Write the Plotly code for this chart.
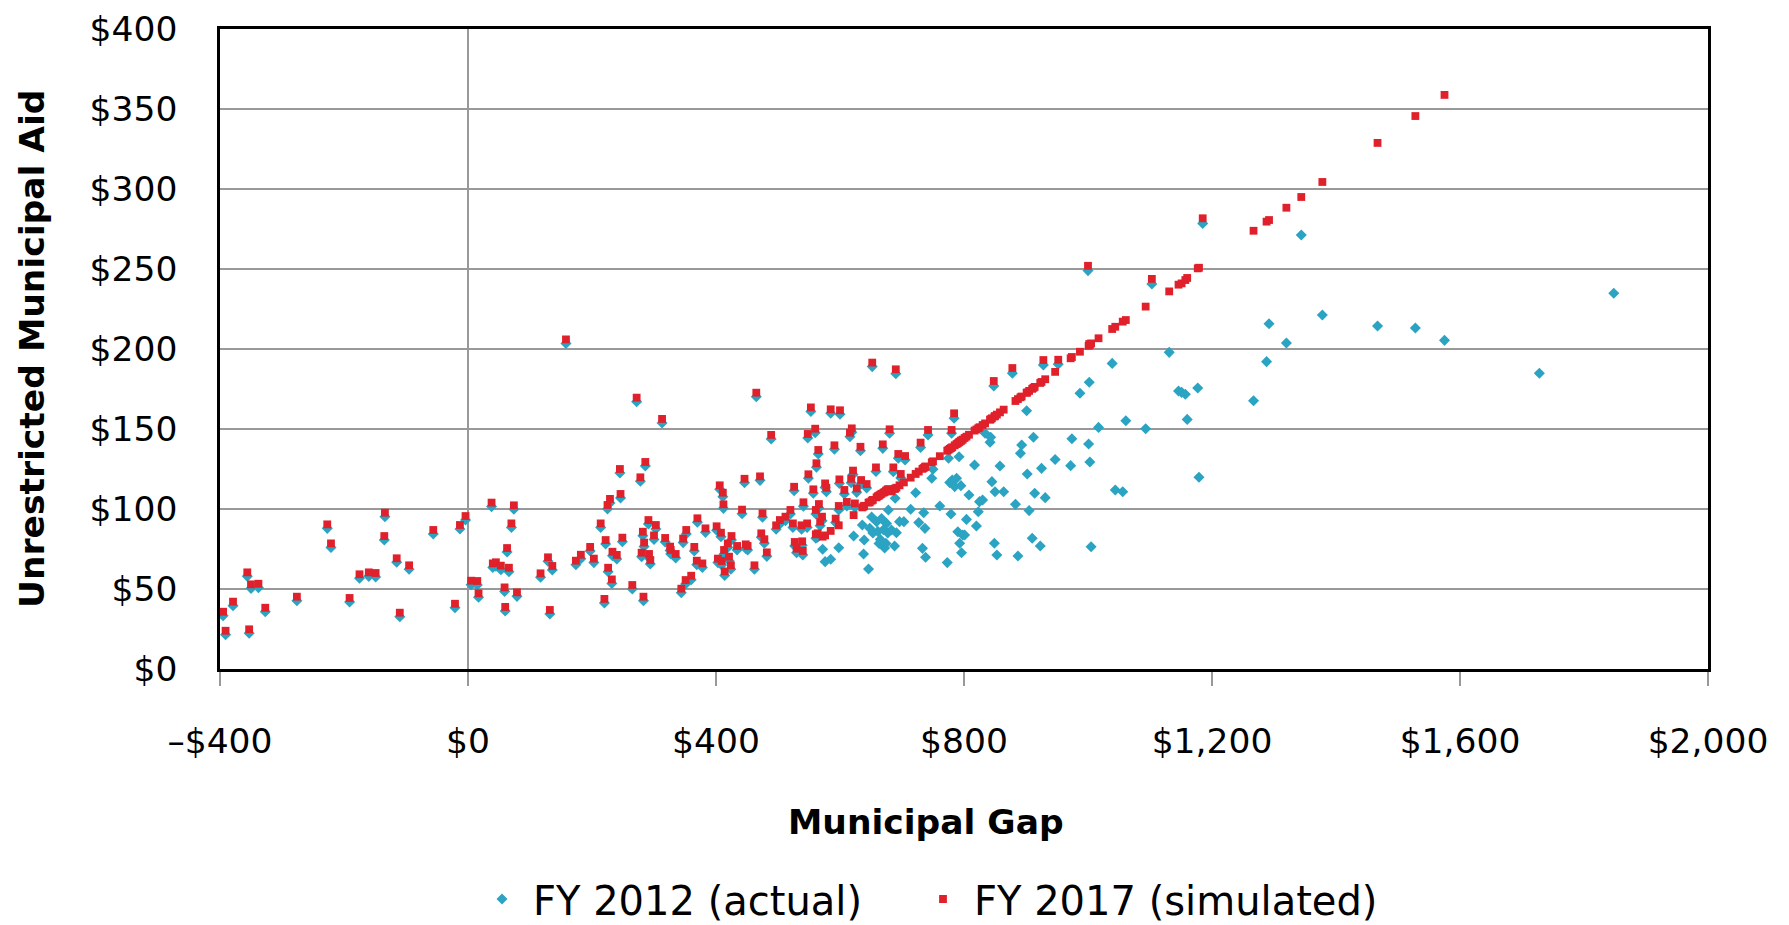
import plotly.graph_objects as go

# ---------------- data ----------------
# Municipal gap ($ per capita) and unrestricted municipal aid ($ per capita)
gap_a = [-395, -391, -379, -356, -353, -350, -338, -327, -276, -227, -221, -191,
         -175, -160, -149, -135, -134, -115, -110, -95, -56, -21, -13, -4]
fy12_a = [33.3, 21.4, 39.6, 57.9, 22.3, 50.4, 50.8, 35.8, 42.7, 87.9, 76.0, 41.9,
          56.7, 57.9, 57.5, 80.6, 95.2, 66.7, 32.7, 62.3, 84.4, 38.3, 87.5, 93.1]
fy17_a = [35.8, 23.9, 42.1, 60.4, 24.8, 52.9, 53.3, 38.3, 45.2, 90.4, 78.5, 44.4,
          59.2, 60.4, 60.0, 83.1, 97.7, 69.2, 35.2, 64.8, 86.9, 40.8, 90.0, 95.6]

gap_b = [5, 15, 17, 38, 40, 45, 53, 59, 60, 63,
         66, 70, 74, 79, 117, 129, 132, 136, 158, 174,
         182, 197, 203, 214, 220, 222, 225, 226, 229, 232,
         233, 240, 245, 246, 249, 265, 272, 278, 280, 282,
         283, 284, 286, 291, 292, 294, 300, 303, 313, 318,
         326, 327, 335, 344, 347, 351, 352, 360, 365, 369,
         370]
fy12_b = [52.7, 52.5, 44.8, 101.5, 63.5, 64.2, 62.1, 48.5, 36.3, 73.1,
          60.8, 88.5, 99.8, 45.4, 57.3, 67.3, 34.4, 61.9, 203.5, 65.2,
          68.9, 73.8, 66.5, 88.5, 41.3, 78.1, 100.0, 60.8, 103.8, 53.5,
          70.8, 68.8, 122.5, 106.9, 79.6, 50.0, 167.1, 117.3, 70.2, 83.3,
          42.7, 76.5, 126.9, 90.6, 69.4, 65.6, 81.0, 87.5, 153.8, 79.4,
          74.0, 71.9, 69.4, 47.7, 79.0, 53.1, 84.4, 55.8, 73.8, 65.2,
          91.7]
fy17_b = [55.2, 55.0, 47.3, 104.0, 66.0, 66.7, 64.6, 51.0, 38.8, 75.6,
          63.3, 91.0, 102.3, 47.9, 59.8, 69.8, 36.9, 64.4, 206.0, 67.7,
          71.4, 76.3, 69.0, 91.0, 43.8, 80.6, 102.5, 63.3, 106.3, 56.0,
          73.3, 71.3, 125.0, 109.4, 82.1, 52.5, 169.6, 119.8, 72.7, 85.8,
          45.2, 79.0, 129.4, 93.1, 71.9, 68.1, 83.5, 90.0, 156.3, 81.9,
          76.5, 74.4, 71.9, 50.2, 81.5, 55.6, 86.9, 58.3, 76.3, 67.7,
          94.2]

gap_c = [378, 383, 401, 403, 406, 408, 409, 411, 412, 413,
         414, 419, 421, 424, 425, 434, 442, 446, 448, 451,
         462, 465, 471, 473, 475, 478, 482, 489, 497, 503,
         512, 520, 524, 526, 527, 530, 538, 539, 540, 541,
         547, 548, 549, 553, 557, 560, 561, 561, 562, 565,
         566, 564, 568, 571, 576, 578, 585, 591, 593, 598,
         599, 600, 607, 611, 616, 618, 619, 621, 624, 627,
         633, 634, 643, 652, 658, 669]
fy12_c = [63.5, 85.4, 86.7, 66.5, 112.3, 82.7, 65.0, 107.7, 100.4, 71.9,
          58.5, 76.0, 67.7, 62.3, 80.6, 74.4, 97.1, 116.4, 75.4, 74.4,
          62.3, 170.2, 117.9, 82.3, 94.8, 78.6, 70.4, 143.8, 87.3, 90.6,
          92.7, 96.9, 88.5, 111.4, 76.9, 72.7, 87.3, 77.3, 71.3, 101.7,
          88.5, 144.4, 119.2, 161.0, 109.8, 147.7, 96.9, 81.7, 126.1, 134.4,
          100.6, 82.3, 89.6, 92.7, 113.5, 110.8, 159.8, 137.3, 91.5, 99.4,
          116.0, 159.2, 109.4, 101.9, 145.2, 116.4, 147.9, 121.5, 101.0, 110.4,
          136.4, 115.6, 113.1, 189.0, 123.5, 137.9]
fy17_c = [66.0, 87.9, 89.2, 69.0, 114.8, 85.2, 67.5, 110.2, 102.9, 74.4,
          61.0, 78.5, 70.2, 64.8, 83.1, 76.9, 99.6, 118.9, 77.9, 76.9,
          64.8, 172.7, 120.4, 84.8, 97.3, 81.1, 72.9, 146.3, 89.8, 93.1,
          95.2, 99.4, 91.0, 113.9, 79.4, 75.2, 89.8, 79.8, 73.8, 104.2,
          91.0, 146.9, 121.7, 163.5, 112.3, 150.2, 99.4, 84.2, 128.6, 136.9,
          103.1, 84.8, 92.1, 95.2, 116.0, 113.3, 162.3, 139.8, 94.0, 101.9,
          118.5, 161.7, 111.9, 104.4, 147.7, 118.9, 150.4, 124.0, 103.5, 112.9,
          138.9, 118.1, 115.6, 191.5, 126.0, 140.4]

gap_d = [572, 576, 585, 598, 622, 636, 638, 639, 646, 648,
         651, 653, 659, 661, 663, 665, 667, 670, 672, 674,
         675, 677, 678]
fy12_d = [74.8, 67.1, 68.6, 75.8, 83.1, 90.0, 71.9, 80.6, 62.5, 88.0,
          95.0, 85.0, 92.0, 86.0, 78.5, 81.0, 94.0, 87.0, 75.6, 78.5,
          91.0, 85.0, 99.4]
fy17_d = [82.7, 83.5, 86.3, 89.8, 96.2, 101.0, 101.5, 102.0, 104.0, 104.2,
          105.2, 105.7, 107.3, 108.0, 108.4, 109.0, 109.5, 110.2, 110.6, 111.2,
          111.7, 112.2, 112.4]

gap_e = [680, 686, 690, 694, 698, 705, 730, 742, 780, 784, 848, 878, 928, 952]
fy12_e = [147.3, 123.3, 184.5, 131.7, 119.4, 130.6, 138.5, 146.2, 147.3, 156.7,
          176.9, 184.8, 190.0, 190.5]
fy17_e = [149.8, 126.0, 187.3, 134.4, 121.9, 133.1, 141.5, 149.4, 149.4, 159.8,
          180.0, 188.1, 193.1, 193.3]

gap_f = [683, 688, 689, 691, 696, 703, 714, 722, 727, 733,
         735, 737, 738, 748, 750, 761, 773, 775, 777, 779,
         781, 785, 788, 790, 792, 793, 795, 796, 798, 801,
         804, 808, 817, 820, 823, 825, 830, 834, 842, 843,
         845, 849, 850, 853, 858, 864, 883, 887, 891, 893,
         901, 902, 905, 910, 912, 914, 923, 925, 931, 947]
fy12_f = [86.9, 76.9, 106.7, 85.2, 92.1, 92.1, 99.8, 110.2, 91.5, 75.4,
          97.7, 87.9, 69.8, 119.2, 124.8, 101.9, 66.5, 131.7, 116.5, 96.9,
          118.1, 114.0, 119.2, 85.8, 132.7, 78.6, 114.6, 72.7, 83.7, 83.7,
          93.5, 108.8, 127.5, 89.4, 98.3, 104.6, 105.6, 147.3, 141.7, 144.8,
          117.1, 78.6, 110.8, 71.3, 126.9, 110.8, 102.9, 70.6, 134.8, 140.0,
          161.4, 121.9, 99.0, 81.7, 144.8, 109.8, 76.9, 125.4, 107.1, 130.9]
fy17_f = [111.0, 112.5, 112.8, 113.3, 114.8, 116.6, 119.6, 121.9, 123.4, 125.1,
          125.6, 126.2, 126.6, 129.2, 129.8, 133.0, 136.4, 137.0, 137.6, 138.1,
          138.6, 139.8, 140.6, 141.1, 141.7, 142.1, 142.6, 142.9, 143.4, 144.4,
          145.2, 146.4, 149.0, 149.7, 150.5, 151.1, 152.5, 153.5, 155.8, 156.1,
          156.7, 157.8, 158.1, 159.0, 160.4, 162.1, 167.5, 168.7, 169.8, 170.3,
          172.6, 172.9, 173.8, 175.1, 175.7, 176.3, 178.8, 179.4, 181.1, 185.7]

gap_g = [972, 974, 987, 1000, 1001, 1002, 1003, 1005, 1017, 1039,
         1044, 1056, 1061, 1093, 1103, 1131, 1146, 1151, 1157, 1160,
         1177, 1179, 1185]
fy12_g = [127.1, 143.9, 172.3, 249.0, 140.6, 179.2, 129.4, 76.4, 151.0, 191.0,
          111.9, 110.8, 155.2, 150.2, 240.6, 197.9, 173.8, 172.9, 171.7, 156.0,
          175.6, 119.8, 278.5]
fy17_g = [194.2, 195.0, 198.3, 252.0, 202.0, 203.1, 202.5, 203.5, 206.7, 212.5,
          213.9, 217.1, 218.1, 226.5, 243.8, 236.0, 240.2, 241.0, 243.1, 244.4,
          250.4, 250.8, 281.7]

gap_h = [1267, 1288, 1292, 1320, 1344, 1378, 1467, 1528, 1575, 1728, 1848]
fy12_h = [167.7, 192.1, 215.8, 203.8, 271.3, 221.3, 214.4, 213.1, 205.4, 184.8, 234.8]
fy17_h = [273.9, 279.6, 280.6, 288.3, 295.0, 304.4, 328.8, 345.6, 358.8, None, None]

x_tick_values = [-400, 0, 400, 800, 1200, 1600, 2000]
x_tick_labels = ["\u2013$400", "$0", "$400", "$800", "$1,200", "$1,600", "$2,000"]
y_tick_values = [0, 50, 100, 150, 200, 250, 300, 350, 400]
y_tick_labels = ["$0", "$50", "$100", "$150", "$200", "$250", "$300", "$350", "$400"]

series_names = ["FY 2012 (actual)", "FY 2017 (simulated)"]
x_title = "Municipal Gap"
y_title = "Unrestricted Municipal Aid"

# ---------------- assemble ----------------
gap = gap_a + gap_b + gap_c + gap_d + gap_e + gap_f + gap_g + gap_h
fy2012 = fy12_a + fy12_b + fy12_c + fy12_d + fy12_e + fy12_f + fy12_g + fy12_h
fy2017 = fy17_a + fy17_b + fy17_c + fy17_d + fy17_e + fy17_f + fy17_g + fy17_h

FONT = "DejaVu Sans"
BLUE = "#2ba4c3"
RED = "#e0202b"
GRID = "#999999"

W, H = 1789, 925
ML, MR, MT, MB = 220, 81, 29, 256
PW, PH = W - ML - MR, H - MT - MB


def px_x(px):
    return (px - ML) / PW


def px_y(py):
    return (H - MB - py) / PH


fig = go.Figure()
fig.add_trace(go.Scatter(
    x=gap, y=fy2012, mode="markers", name=series_names[0],
    marker=dict(symbol="diamond", size=8.5, color=BLUE, line=dict(width=0)),
    legendwidth=374,
))
fig.add_trace(go.Scatter(
    x=gap, y=fy2017, mode="markers", name=series_names[1],
    marker=dict(symbol="square", size=7.8, color=RED, line=dict(width=0)),
    legendwidth=420,
))

fig.update_layout(
    width=W, height=H,
    margin=dict(l=ML, r=MR, t=MT, b=MB, pad=0, autoexpand=False),
    paper_bgcolor="white", plot_bgcolor="white",
    font=dict(family=FONT, color="black"),
    showlegend=True,
    legend=dict(
        orientation="h", x=px_x(471), y=px_y(899),
        xanchor="left", yanchor="middle",
        font=dict(family=FONT, size=40, color="black"),
        itemwidth=52,
        bgcolor="rgba(0,0,0,0)", borderwidth=0,
    ),
    xaxis=dict(
        range=[-400, 2000], tickmode="array",
        tickvals=x_tick_values, ticktext=x_tick_labels,
        ticks="outside", ticklen=14, tickwidth=2, tickcolor=GRID,
        showgrid=False, zeroline=True, zerolinecolor=GRID, zerolinewidth=2,
        showline=True, mirror=True, linecolor="black", linewidth=2.5,
        tickfont=dict(family=FONT, size=34.5, color="black"),
        ticklabelstandoff=26, automargin=False,
    ),
    yaxis=dict(
        range=[0, 400], tickmode="array",
        tickvals=y_tick_values, ticktext=y_tick_labels,
        ticks="", showgrid=True, gridcolor=GRID, gridwidth=2,
        zeroline=False,
        showline=True, mirror=True, linecolor="black", linewidth=2.5,
        tickfont=dict(family=FONT, size=34.5, color="black"),
        ticklabelstandoff=33, automargin=False,
    ),
    annotations=[
        dict(text="<b>" + x_title + "</b>", xref="paper", yref="paper",
             x=px_x(926), y=px_y(822),
             xanchor="center", yanchor="middle", showarrow=False,
             font=dict(family=FONT, size=34.5, color="black")),
        dict(text="<b>" + y_title + "</b>", xref="paper", yref="paper",
             x=px_x(32), y=0.5, textangle=-90,
             xanchor="center", yanchor="middle", showarrow=False,
             font=dict(family=FONT, size=34.5, color="black")),
    ],
)

# remove the browser's default 8px page margin so the figure fills the window exactly
fig.write_html(
    "out.html",
    config={"displayModeBar": False},
    post_script="document.body.style.margin='0px';",
)
